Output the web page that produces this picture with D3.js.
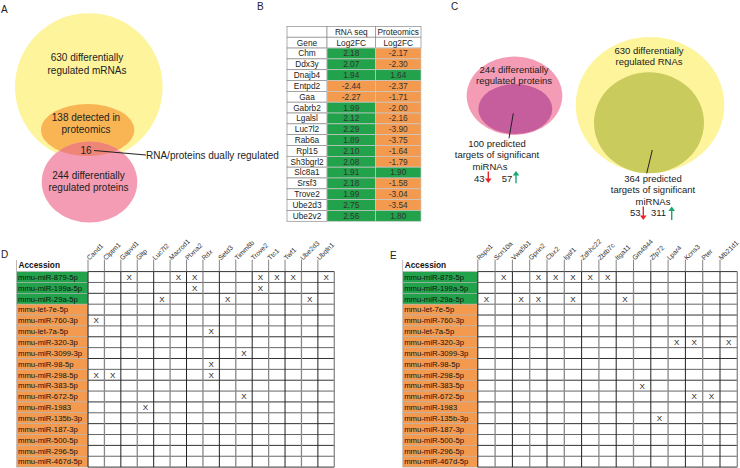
<!DOCTYPE html>
<html><head><meta charset="utf-8">
<script src="https://cdn.jsdelivr.net/npm/d3@7"></script>
<style>
html,body{margin:0;padding:0;background:#fff;}
svg{display:block;font-family:"Liberation Sans",Arial,Helvetica,sans-serif;}
</style></head><body>
<svg id="chart" width="740" height="468"></svg>
<script>
// ---------------- data ----------------
const panelLabels = ["A", "B", "C", "D", "E"];

// Panel A (Venn)
const vennAMrnaText = ["630 differentially", "regulated mRNAs"];
const vennADetectedText = ["138 detected in", "proteomics"];
const vennADualCount = "16";
const vennADualNote = "RNA/proteins dually regulated";
const vennAProteinText = ["244 differentially", "regulated proteins"];

// Panel B (table)
const tableBHeaderTop = ["", "RNA seq", "Proteomics"];
const tableBHeaderSub = ["Gene", "Log2FC", "Log2FC"];
const tableBGenes = ["Chm", "Ddx3y", "Dnajb4", "Entpd2", "Gaa", "Gabrb2", "Lgalsl", "Luc7l2",
  "Rab6a", "Rpl15", "Sh3bgrl2", "Slc8a1", "Srsf3", "Trove2", "Ube2d3", "Ube2v2"];
const rnaSeqLog2FC = [2.18, 2.07, 1.94, -2.44, -2.27, 1.99, 2.12, 2.29, 1.89, 2.10, 2.08, 1.91, 2.18, 1.99, 2.75, 2.56];
const proteomicsLog2FC = [-2.17, -2.30, 1.64, -2.37, -1.71, -2.00, -2.16, -3.90, -3.75, -1.64, -1.79, 1.90, -1.58, -3.04, -3.54, 1.80];

// Panel C (Venn)
const vennCProteinText = ["244 differentially", "regulated proteins"];
const vennCProteinTargetText = ["100 predicted", "targets of significant", "miRNAs"];
const proteinTargetsDown = 43, proteinTargetsUp = 57;
const vennCRnaText = ["630 differentially", "regulated RNAs"];
const vennCRnaTargetText = ["364 predicted", "targets of significant", "miRNAs"];
const rnaTargetsDown = 53, rnaTargetsUp = 311;

// Panels D/E (miRNA target matrices)
const accessionHeader = "Accession";
const mirnaAccessions = ["mmu-miR-879-5p", "mmu-miR-199a-5p", "mmu-miR-29a-5p", "mmu-let-7e-5p",
  "mmu-miR-760-3p", "mmu-let-7a-5p", "mmu-miR-320-3p", "mmu-miR-3099-3p", "mmu-miR-98-5p",
  "mmu-miR-298-5p", "mmu-miR-383-5p", "mmu-miR-672-5p", "mmu-miR-1983", "mmu-miR-135b-3p",
  "mmu-miR-187-3p", "mmu-miR-500-5p", "mmu-miR-296-5p", "mmu-miR-467d-5p"];
const mirnaDirection = ["up", "up", "up", "down", "down", "down", "down", "down", "down",
  "down", "down", "down", "down", "down", "down", "down", "down", "down"];

const genesD = ["Cand1", "Clptm1", "Gapvd1", "Gltp", "Luc7l2", "Macrod1", "Plxna2", "Rdx",
  "Setd3", "Timm8b", "Trove2", "Ttc1", "Twf1", "Ube2d3", "Ubqln1"];
const targetsD = [
  ["Gapvd1", "Macrod1", "Plxna2", "Trove2", "Ttc1", "Twf1", "Ubqln1"],
  ["Plxna2", "Trove2"],
  ["Luc7l2", "Setd3", "Ube2d3"],
  [],
  ["Cand1"],
  ["Rdx"],
  [],
  ["Timm8b"],
  ["Rdx"],
  ["Cand1", "Clptm1", "Rdx"],
  [],
  ["Timm8b"],
  ["Gltp"],
  [], [], [], [], []
];

const genesE = ["Rspo1", "Scn10a", "Vwa5b1", "Gprin2", "Cbx2", "Igsf1", "Zdhhc22", "Zbtb7c",
  "Itga11", "Gm4944", "Zfp72", "Lpar4", "Kcns3", "Pter", "Mb21d1"];
const targetsE = [
  ["Scn10a", "Gprin2", "Cbx2", "Igsf1", "Zdhhc22", "Zbtb7c"],
  [],
  ["Rspo1", "Vwa5b1", "Gprin2", "Igsf1", "Itga11"],
  [], [], [],
  ["Lpar4", "Kcns3", "Mb21d1"],
  [], [], [],
  ["Gm4944"],
  ["Kcns3", "Pter"],
  [],
  ["Zfp72"],
  [], [], [], []
];

// ---------------- styles ----------------
const GREEN = "#22a24a", ORANGE = "#f39a4e";
const svg = d3.select("#chart");

// panel letters
const letterPos = [[1, 12.7], [257, 10], [451, 10], [1, 258], [390, 258.5]];
svg.selectAll("text.plabel").data(panelLabels).join("text")
  .attr("class", "plabel")
  .attr("x", (d, i) => letterPos[i][0]).attr("y", (d, i) => letterPos[i][1])
  .attr("font-size", 10).attr("fill", "#222").text(d => d);

function multiline(g, lines, x, y0, lh, size, anchor) {
  g.selectAll(null).data(lines).join("text")
    .attr("x", Array.isArray(x) ? (d, i) => x[i] : x)
    .attr("y", (d, i) => y0 + i * lh)
    .attr("font-size", size).attr("text-anchor", anchor || "middle")
    .attr("fill", "#222").text(d => d);
}

// ---------------- Panel A ----------------
{
  const g = svg.append("g");
  const defs = svg.append("defs");
  defs.append("clipPath").attr("id", "clipOrangeA")
    .append("ellipse").attr("cx", 87.7).attr("cy", 130).attr("rx", 46.7).attr("ry", 26);
  g.append("circle").attr("cx", 88.8).attr("cy", 87).attr("r", 73.8).attr("fill", "#fdf49c");
  g.append("ellipse").attr("cx", 87.7).attr("cy", 130).attr("rx", 46.7).attr("ry", 26).attr("fill", "#f9b553");
  g.append("ellipse").attr("cx", 89.5).attr("cy", 182).attr("rx", 47.8).attr("ry", 40.5).attr("fill", "#f39cb3");
  g.append("ellipse").attr("cx", 89.5).attr("cy", 182).attr("rx", 47.8).attr("ry", 40.5)
    .attr("fill", "#ef8577").attr("clip-path", "url(#clipOrangeA)");
  multiline(g, vennAMrnaText, 87, 60.8, 12.7, 10);
  multiline(g, vennADetectedText, 86, 121.2, 11.3, 10);
  g.append("text").attr("x", 86).attr("y", 153.5).attr("font-size", 10).attr("text-anchor", "middle")
    .attr("fill", "#222").text(vennADualCount);
  g.append("line").attr("x1", 94).attr("y1", 150.5).attr("x2", 146).attr("y2", 155)
    .attr("stroke", "#222").attr("stroke-width", 1);
  g.append("text").attr("x", 146).attr("y", 158.5).attr("font-size", 10).attr("fill", "#222").text(vennADualNote);
  multiline(g, vennAProteinText, 88.5, 179.2, 12, 10);
}

// ---------------- Panel B ----------------
{
  const g = svg.append("g");
  const rowKeys = d3.range(tableBGenes.length + 2);
  const y = d3.scaleBand().domain(rowKeys).range([26.4, 221.3]);
  const colEdges = [287, 327, 375.5, 421];
  const cols = [0, 1, 2];
  const cx = i => (colEdges[i] + colEdges[i + 1]) / 2;
  const cells = [];
  rowKeys.forEach(r => cols.forEach(c => {
    let text, fill = "#fff", stroke = "#8a8a8a";
    if (r === 0) text = tableBHeaderTop[c];
    else if (r === 1) text = tableBHeaderSub[c];
    else {
      const k = r - 2;
      if (c === 0) text = tableBGenes[k];
      else {
        const v = c === 1 ? rnaSeqLog2FC[k] : proteomicsLog2FC[k];
        text = v.toFixed(2);
        fill = v >= 0 ? GREEN : ORANGE;
        stroke = "#c9c9c9";
      }
    }
    cells.push({ r, c, text, fill, stroke });
  }));
  g.selectAll("rect").data(cells).join("rect")
    .attr("x", d => colEdges[d.c]).attr("y", d => y(d.r))
    .attr("width", d => colEdges[d.c + 1] - colEdges[d.c]).attr("height", y.bandwidth())
    .attr("fill", d => d.fill).attr("stroke", d => d.stroke).attr("stroke-width", 0.7);
  g.selectAll("text").data(cells).join("text")
    .attr("x", d => cx(d.c)).attr("y", d => y(d.r) + y.bandwidth() / 2)
    .attr("dy", "0.35em").attr("text-anchor", "middle").attr("font-size", 8.3)
    .attr("fill", d => d.fill === "#fff" ? "#222" : "#333").text(d => d.text);
}

// arrow helper
function arrow(g, x, yTail, yHead, color) {
  const dir = yHead > yTail ? 1 : -1;
  g.append("line").attr("x1", x).attr("x2", x).attr("y1", yTail).attr("y2", yHead - dir * 3)
    .attr("stroke", color).attr("stroke-width", 1.4);
  g.append("path").attr("d", `M${x - 3.3},${yHead - dir * 4.5}L${x + 3.3},${yHead - dir * 4.5}L${x},${yHead}Z`)
    .attr("fill", color);
}

// ---------------- Panel C ----------------
{
  const g = svg.append("g");
  g.append("ellipse").attr("cx", 514.5).attr("cy", 95.8).attr("rx", 47.8).attr("ry", 39.2).attr("fill", "#f49bb5");
  g.append("ellipse").attr("cx", 515.3).attr("cy", 109).attr("rx", 37).attr("ry", 25).attr("fill", "#c65d9c");
  multiline(g, vennCProteinText, 514, 72.6, 11.4, 9.5);
  g.append("line").attr("x1", 513.3).attr("y1", 113.3).attr("x2", 509).attr("y2", 138.3).attr("stroke", "#222");
  multiline(g, vennCProteinTargetText, [497, 497, 490], 146.6, 11.7, 9.5);
  g.append("text").attr("x", 474).attr("y", 181.6).attr("font-size", 9.5).attr("fill", "#222").text(proteinTargetsDown);
  arrow(g, 488.3, 171.5, 183, "#e8262b");
  g.append("text").attr("x", 501.7).attr("y", 181.6).attr("font-size", 9.5).attr("fill", "#222").text(proteinTargetsUp);
  arrow(g, 516, 183.3, 171, "#1aa56e");

  g.append("ellipse").attr("cx", 650).attr("cy", 105).attr("rx", 74.3).attr("ry", 68).attr("fill", "#fdf49c");
  g.append("ellipse").attr("cx", 649).attr("cy", 122.8).attr("rx", 55).attr("ry", 50.5).attr("fill", "#c9cc5c");
  multiline(g, vennCRnaText, 649, 54, 11, 9.5);
  g.append("line").attr("x1", 652.3).attr("y1", 150).attr("x2", 646.7).attr("y2", 173.3).attr("stroke", "#222");
  multiline(g, vennCRnaTargetText, 653, 181.6, 11.5, 9.5);
  g.append("text").attr("x", 630).attr("y", 215.6).attr("font-size", 9.5).attr("fill", "#222").text(rnaTargetsDown);
  arrow(g, 643.3, 206.5, 220, "#e8262b");
  g.append("text").attr("x", 651).attr("y", 215.6).attr("font-size", 9.5).attr("fill", "#222").text(rnaTargetsUp);
  arrow(g, 671.7, 220, 206.5, "#1aa56e");
}

// ---------------- Panels D / E ----------------
function drawMatrix(accLeft, accRight, gridRight, genes, targets) {
  const g = svg.append("g");
  const gridTop = 271.6, gridBottom = 467.1;
  const y = d3.scaleBand().domain(mirnaAccessions).range([gridTop, gridBottom]);
  const x = d3.scaleBand().domain(genes).range([accRight, gridRight]);

  // accession header
  g.append("text").attr("x", accLeft + 2).attr("y", 268.3).attr("font-size", 8.3)
    .attr("font-weight", "bold").attr("fill", "#111").text(accessionHeader);
  g.append("line").attr("x1", accLeft).attr("x2", accLeft).attr("y1", 260).attr("y2", gridTop)
    .attr("stroke", "#aaa").attr("stroke-width", 0.8);

  // accession cells
  g.selectAll("rect.acc").data(mirnaAccessions).join("rect").attr("class", "acc")
    .attr("x", accLeft).attr("y", d => y(d)).attr("width", accRight - accLeft).attr("height", y.bandwidth())
    .attr("fill", (d, i) => mirnaDirection[i] === "up" ? GREEN : ORANGE)
    .attr("stroke", "#b5b5b5").attr("stroke-width", 0.6);
  g.selectAll("text.acc").data(mirnaAccessions).join("text").attr("class", "acc")
    .attr("x", accLeft + 1.5).attr("y", d => y(d) + y.bandwidth() / 2).attr("dy", "0.36em")
    .attr("font-size", 7.7).attr("fill", "#111").text(d => d);

  // grid lines
  const hLines = d3.range(mirnaAccessions.length + 1).map(i => gridTop + i * y.step());
  g.selectAll("line.h").data(hLines).join("line").attr("class", "h")
    .attr("x1", accRight).attr("x2", gridRight).attr("y1", d => d).attr("y2", d => d)
    .attr("stroke", (d, i) => i % 2 ? "#666" : "#333").attr("stroke-width", 1);
  const vLines = genes.map(gn => x(gn)).concat([gridRight]);
  g.selectAll("line.v").data(vLines).join("line").attr("class", "v")
    .attr("x1", d => d).attr("x2", d => d).attr("y1", gridTop).attr("y2", gridBottom)
    .attr("stroke", (d, i) => i % 2 ? "#888" : "#222").attr("stroke-width", (d, i) => i % 2 ? 1.3 : 1);

  // header ticks + rotated gene names
  g.selectAll("line.hd").data(genes).join("line").attr("class", "hd")
    .attr("x1", d => x(d)).attr("x2", d => x(d)).attr("y1", gridTop - 12).attr("y2", gridTop)
    .attr("stroke", "#666").attr("stroke-width", 0.8);
  g.selectAll("text.gn").data(genes).join("text").attr("class", "gn")
    .attr("transform", d => `translate(${x(d) + 1.6},${gridTop - 11}) rotate(-45)`)
    .attr("font-size", 6.8).attr("fill", "#333").text(d => d);

  // X marks (tiny rotation forces grayscale antialiasing)
  const marks = [];
  targets.forEach((list, i) => list.forEach(gn => marks.push({ m: mirnaAccessions[i], gn })));
  g.selectAll("text.x").data(marks).join("text").attr("class", "x")
    .attr("transform", d => `translate(${x(d.gn) + x.bandwidth() / 2},${y(d.m) + y.bandwidth() / 2}) rotate(0.01)`)
    .attr("dy", "0.36em").attr("text-anchor", "middle").attr("font-size", 8).attr("fill", "#111")
    .text("X");
}
drawMatrix(16.5, 88, 334.3, genesD, targetsD);
drawMatrix(402.7, 477.8, 737.3, genesE, targetsE);
</script>
</body></html>
